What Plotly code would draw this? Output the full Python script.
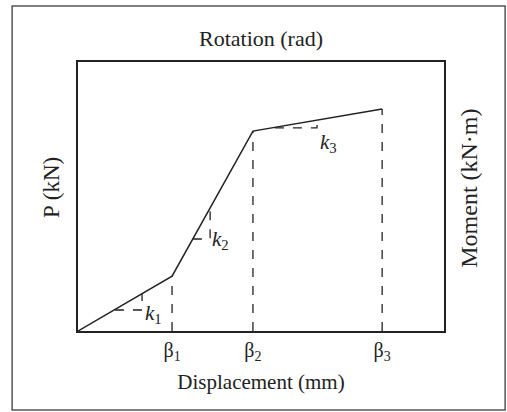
import plotly.graph_objects as go

# Data (normalized units, 0-100 on both axes)
disp = [0, 25.7, 47.8, 83.1]
load = [0, 20.4, 74.3, 82.5]
beta_labels = ["β<sub>1</sub>", "β<sub>2</sub>", "β<sub>3</sub>"]
beta_vals = [25.7, 47.8, 83.1]

# stiffness triangles: (x_start, x_end, y_base, y_top)
k1_tri = [10.1, 17.5, 7.8, 13.9]
k2_tri = [31.4, 36.1, 34.2, 45.8]
k3_tri = [53.8, 65.3, 75.5, 78.4]
k_labels = ["<i>k</i><sub>1</sub>", "<i>k</i><sub>2</sub>", "<i>k</i><sub>3</sub>"]
k_label_pos = [(20.6, 6.3), (39.0, 34.0), (68.4, 70.0)]

FONT = "Liberation Serif"
INK = "#222222"

fig = go.Figure()

# main trilinear curve
fig.add_trace(go.Scatter(x=disp, y=load, mode="lines",
                         line=dict(color=INK, width=1.5), showlegend=False,
                         hoverinfo="skip"))

# dashed verticals at beta points
for bx, by in zip(disp[1:], load[1:]):
    fig.add_trace(go.Scatter(x=[bx, bx], y=[0, by], mode="lines",
                             line=dict(color=INK, width=1.3, dash="dash"),
                             showlegend=False, hoverinfo="skip"))

# stiffness triangles
for tri in (k1_tri, k2_tri, k3_tri):
    x0, x1, yb, yt = tri
    fig.add_trace(go.Scatter(x=[x0, x1, x1], y=[yb, yb, yt], mode="lines",
                             line=dict(color=INK, width=1.3, dash="dash"),
                             showlegend=False, hoverinfo="skip"))

for lab, (lx, ly) in zip(k_labels, k_label_pos):
    fig.add_annotation(x=lx, y=ly, text=lab, showarrow=False,
                       font=dict(family=FONT, size=21, color=INK))

# vertical titles
fig.add_annotation(xref="paper", yref="paper", x=-0.071, y=0.532,
                   text="P (kN)", textangle=-90, showarrow=False,
                   xanchor="center", yanchor="middle",
                   font=dict(family=FONT, size=23, color=INK))
fig.add_annotation(xref="paper", yref="paper", x=1.068, y=0.532,
                   text="Moment (kN·m)", textangle=-90, showarrow=False,
                   xanchor="center", yanchor="middle",
                   font=dict(family=FONT, size=24, color=INK))

# secondary x axis for top title
fig.add_trace(go.Scatter(x=[0], y=[0], xaxis="x2", mode="markers",
                         marker=dict(opacity=0), showlegend=False, hoverinfo="skip"))

fig.update_layout(
    width=507, height=412,
    margin=dict(l=78, r=63, t=62, b=81),
    paper_bgcolor="white", plot_bgcolor="white",
    font=dict(family=FONT, size=20, color=INK),
    xaxis=dict(range=[0, 100], showgrid=False, zeroline=False,
               showline=True, linecolor=INK, linewidth=1.5, mirror=True,
               tickmode="array", tickvals=beta_vals, ticktext=beta_labels,
               ticks="", tickfont=dict(family=FONT, size=20, color=INK),
               title=dict(text="Displacement (mm)", standoff=11,
                          font=dict(family=FONT, size=21, color=INK))),
    yaxis=dict(range=[0, 100], showgrid=False, zeroline=False,
               showline=True, linecolor=INK, linewidth=1.5, mirror=True,
               showticklabels=False, ticks=""),
    xaxis2=dict(range=[0, 100], overlaying="x", side="top", showgrid=False,
                zeroline=False, showticklabels=False, ticks="",
                title=dict(text="Rotation (rad)", standoff=8,
                           font=dict(family=FONT, size=22, color=INK))),
    shapes=[dict(type="rect", xref="paper", yref="paper",
                 x0=-0.180, x1=1.167, y0=-0.294, y1=1.208,
                 line=dict(color="#555555", width=1.5))],
)

fig.write_html("out.html")
